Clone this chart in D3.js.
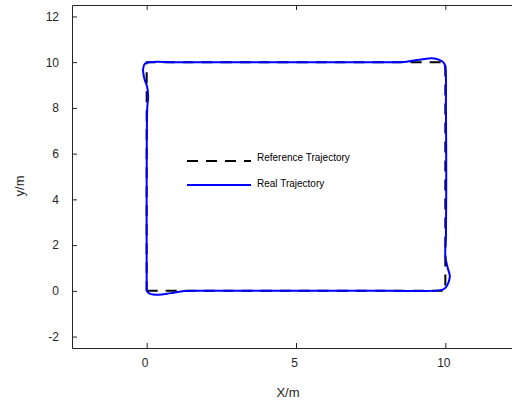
<!DOCTYPE html>
<html>
<head>
<meta charset="utf-8">
<script src="https://cdn.jsdelivr.net/npm/d3@7"></script>
<style>
  body { margin: 0; background: #fff; }
  svg { font-family: "Liberation Sans", Arial, sans-serif; }
</style>
</head>
<body>
<div id="chart"></div>
<script>
// reference square path
const refX = [0, 10, 10, 0, 0];
const refY = [0, 0, 10, 10, 0];

const realX = [0, 0.1, 0.4, 0.8, 1.2, 2, 5, 8, 9.8, 9.98, 10.1, 10.15, 10.08, 10.0, 10.02, 10.03, 10.02, 10.0, 9.95, 9.8, 9.55, 9.2, 8.7, 8, 5, 1, 0.1, -0.06, -0.12, -0.08, 0.02, 0.05, 0.02, 0.0, 0.0, 0];
const realY = [0, -0.12, -0.17, -0.1, -0.02, 0, 0, 0, 0.02, 0.1, 0.35, 0.65, 1.0, 1.5, 2.4, 5, 8, 9.8, 9.97, 10.1, 10.17, 10.12, 10.02, 10, 10, 10, 10, 9.93, 9.7, 9.3, 8.9, 8.5, 8, 5, 1, 0];

const xTicks = [0, 5, 10];
const yTicks = [-2, 0, 2, 4, 6, 8, 10, 12];
const legendLabels = ["Reference Trajectory", "Real Trajectory"];

const W = 512, H = 400;
const axisColor = "#262626";

const svg = d3.select("#chart").append("svg")
    .attr("width", W)
    .attr("height", H);

// plot area: x from 72 to 520 (right edge runs off the canvas)
const x = d3.scaleLinear().domain([-2.5, 12.5]).range([72, 520]);
const y = d3.scaleLinear().domain([-2.5, 12.5]).range([348, 5]);

const line = d3.line()
    .x(d => x(d[0]))
    .y(d => y(d[1]));

// reference (dashed black)
const refPts = refX.map((v, i) => [v, refY[i]]);
svg.append("path")
    .attr("d", line(refPts))
    .attr("fill", "none")
    .attr("stroke", "#000")
    .attr("stroke-width", 2)
    .attr("stroke-dasharray", "11,8");

// real trajectory (blue)
const realPts = realX.map((v, i) => [v, realY[i]]);
svg.append("path")
    .attr("d", line.curve(d3.curveCatmullRom.alpha(0.5))(realPts))
    .attr("fill", "none")
    .attr("stroke", "#0000ff")
    .attr("stroke-width", 2);

// axes, ticks pointing inward
function styleAxis(g) {
    g.selectAll(".domain").attr("stroke", axisColor);
    g.selectAll(".tick line").attr("stroke", axisColor);
    g.selectAll(".tick text").attr("fill", axisColor).style("font-size", "12px");
}

const plainFmt = d => String(d); // keeps the ASCII hyphen for "-2"

svg.append("g")
    .attr("transform", `translate(0,${y(-2.5)})`)
    .call(d3.axisBottom(x).tickValues(xTicks).tickFormat(plainFmt).tickSizeInner(-5).tickSizeOuter(0).tickPadding(10))
    .call(styleAxis)
    .call(g => g.selectAll(".tick text").attr("dx", "-2"));

svg.append("g")
    .attr("transform", `translate(0,${y(12.5)})`)
    .call(d3.axisTop(x).tickValues(xTicks).tickSizeInner(-5).tickSizeOuter(0).tickFormat(""))
    .call(styleAxis);

svg.append("g")
    .attr("transform", `translate(${x(-2.5)},0)`)
    .call(d3.axisLeft(y).tickValues(yTicks).tickFormat(plainFmt).tickSizeInner(-5).tickSizeOuter(0).tickPadding(13))
    .call(styleAxis);

svg.append("g")
    .attr("transform", `translate(${x(12.5)},0)`)
    .call(d3.axisRight(y).tickValues(yTicks).tickSizeInner(-5).tickSizeOuter(0).tickFormat(""))
    .call(styleAxis);

// axis titles
svg.append("text")
    .attr("x", 288)
    .attr("y", 397)
    .attr("text-anchor", "middle")
    .attr("fill", axisColor)
    .style("font-size", "13px")
    .text("X/m");

svg.append("text")
    .attr("transform", "translate(24,186) rotate(-90)")
    .attr("text-anchor", "middle")
    .attr("fill", axisColor)
    .style("font-size", "13px")
    .text("y/m");

// legend
const legend = svg.append("g");
const legendRows = [
    {label: legendLabels[0], color: "#000", dash: "11,8", ly: 161, ty: 157},
    {label: legendLabels[1], color: "#0000ff", dash: null, ly: 185, ty: 183}
];
legendRows.forEach(r => {
    legend.append("line")
        .attr("x1", 187).attr("x2", 251)
        .attr("y1", r.ly).attr("y2", r.ly)
        .attr("stroke", r.color)
        .attr("stroke-width", 2)
        .attr("stroke-dasharray", r.dash);
    legend.append("text")
        .attr("x", 257)
        .attr("y", r.ty)
        .attr("dy", "0.35em")
        .attr("fill", "#000")
        .style("font-size", "10px")
        .text(r.label);
});
</script>
</body>
</html>
